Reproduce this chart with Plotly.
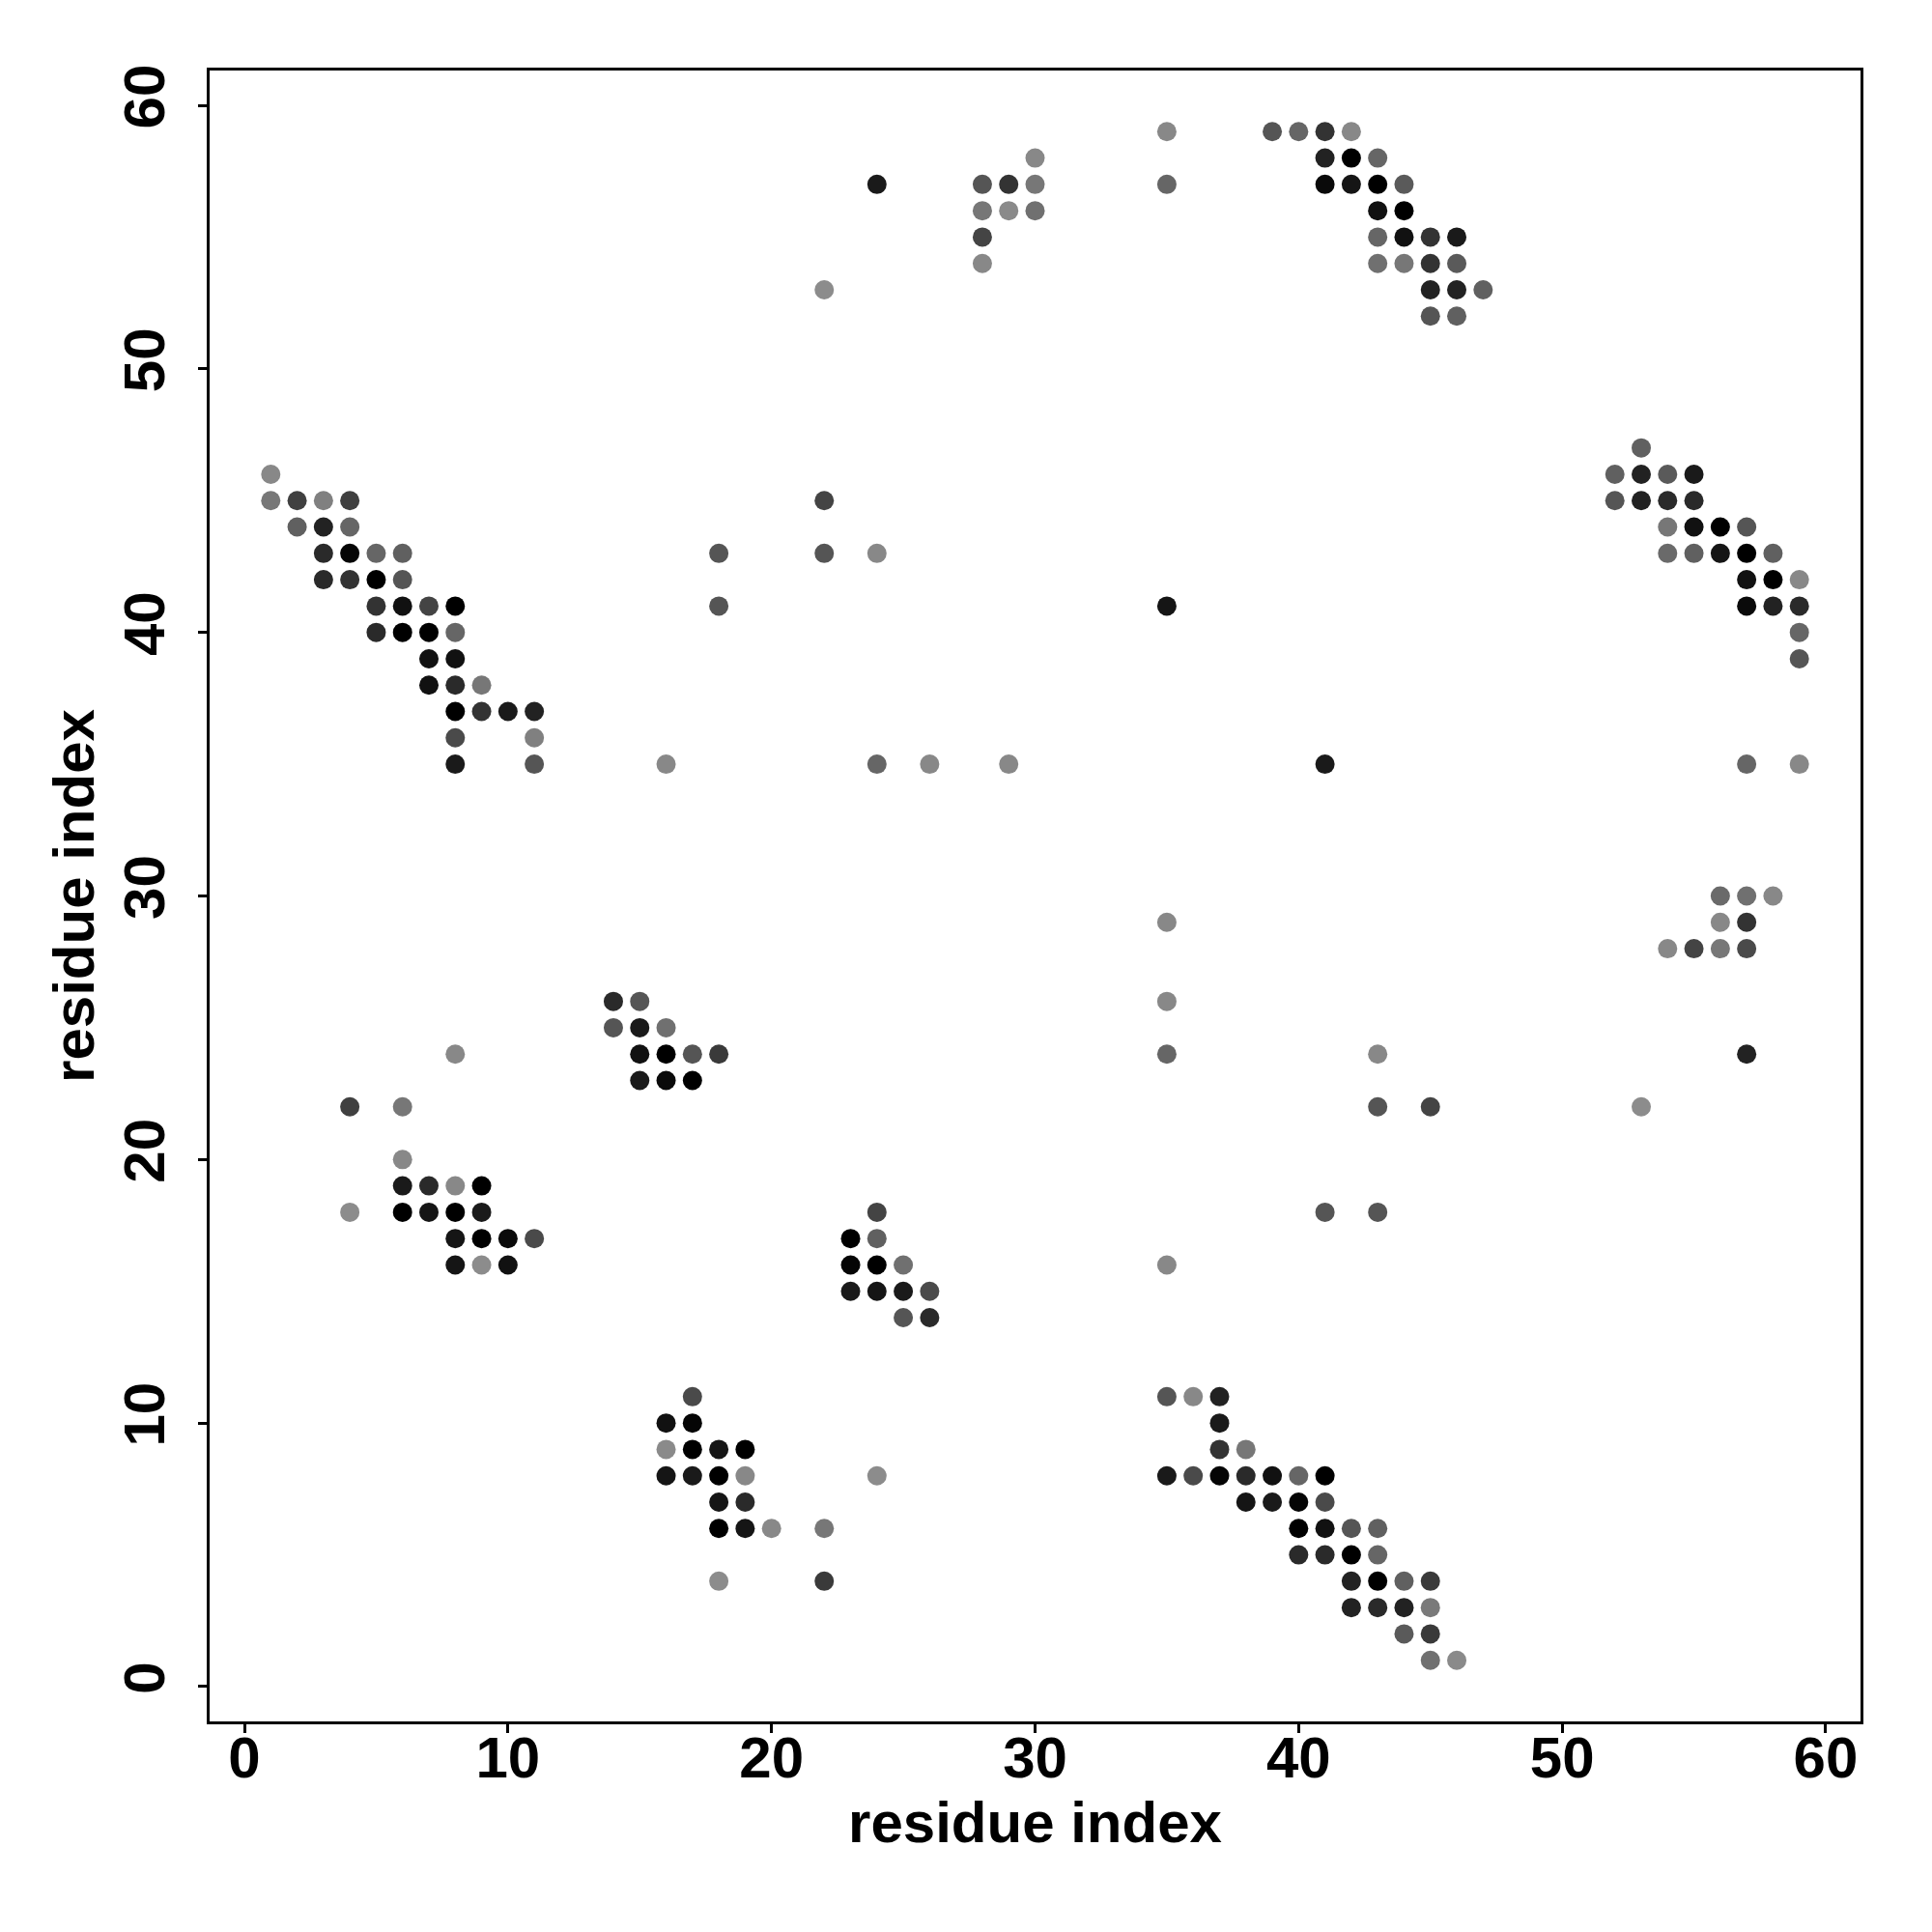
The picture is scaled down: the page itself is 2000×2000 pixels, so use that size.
import plotly.graph_objects as go

# contact map points: residue i (x), residue j (y), grey level (0=black .. 255=white)
x_res = [
    35, 39, 40, 41, 42,
    30, 41, 42, 43,
    24, 28, 29, 30, 35, 41, 42, 43, 44,
    28, 29, 30, 43, 44,
    28, 43, 44, 45, 46,
    28, 43, 44, 45, 46,
    22, 45, 46, 47,
    45, 46,
    53,
    1, 52, 53, 54, 55,
    1, 2, 3, 4, 22, 52, 53, 54, 55,
    2, 3, 4, 54, 55, 56, 57,
    3, 4, 5, 6, 18, 22, 24, 54, 55, 56, 57, 58,
    3, 4, 5, 6, 57, 58, 59,
    5, 6, 7, 8, 18, 35, 57, 58, 59,
    5, 6, 7, 8, 59,
    7, 8, 59,
    7, 8, 9,
    8, 9, 10, 11,
    8, 11,
    8, 11, 16, 24, 26, 29, 41, 57, 59,
    56, 57, 58,
    35, 56, 57,
    54, 55, 56, 57,
    14, 15, 35,
    14, 15, 16,
    8, 15, 16, 17, 18, 35, 43, 57,
    15, 16, 17,
    4, 6, 43, 45, 53,
    6,
    6, 7, 8, 9,
    4, 6, 7, 8, 9, 24, 41, 43,
    8, 9, 10, 11, 23, 24,
    8, 9, 10, 23, 24, 25, 35,
    23, 24, 25, 26,
    25, 26,
    17, 35, 36, 37,
    16, 17, 37,
    16, 17, 18, 19, 37, 38,
    16, 17, 18, 19, 24, 35, 36, 37, 38, 39, 40, 41,
    18, 19, 38, 39, 40, 41,
    18, 19, 20, 22, 40, 41, 42, 43,
    40, 41, 42, 43,
    18, 22, 42, 43, 44, 45,
    42, 43, 44, 45,
    44, 45,
    45, 46,
]
y_res = [
    59, 59, 59, 59, 59,
    58, 58, 58, 58,
    57, 57, 57, 57, 57, 57, 57, 57, 57,
    56, 56, 56, 56, 56,
    55, 55, 55, 55, 55,
    54, 54, 54, 54, 54,
    53, 53, 53, 53,
    52, 52,
    47,
    46, 46, 46, 46, 46,
    45, 45, 45, 45, 45, 45, 45, 45, 45,
    44, 44, 44, 44, 44, 44, 44,
    43, 43, 43, 43, 43, 43, 43, 43, 43, 43, 43, 43,
    42, 42, 42, 42, 42, 42, 42,
    41, 41, 41, 41, 41, 41, 41, 41, 41,
    40, 40, 40, 40, 40,
    39, 39, 39,
    38, 38, 38,
    37, 37, 37, 37,
    36, 36,
    35, 35, 35, 35, 35, 35, 35, 35, 35,
    30, 30, 30,
    29, 29, 29,
    28, 28, 28, 28,
    26, 26, 26,
    25, 25, 25,
    24, 24, 24, 24, 24, 24, 24, 24,
    23, 23, 23,
    22, 22, 22, 22, 22,
    20,
    19, 19, 19, 19,
    18, 18, 18, 18, 18, 18, 18, 18,
    17, 17, 17, 17, 17, 17,
    16, 16, 16, 16, 16, 16, 16,
    15, 15, 15, 15,
    14, 14,
    11, 11, 11, 11,
    10, 10, 10,
    9, 9, 9, 9, 9, 9,
    8, 8, 8, 8, 8, 8, 8, 8, 8, 8, 8, 8,
    7, 7, 7, 7, 7, 7,
    6, 6, 6, 6, 6, 6, 6, 6,
    5, 5, 5, 5,
    4, 4, 4, 4, 4, 4,
    3, 3, 3, 3,
    2, 2,
    1, 1,
]
grey_level = [
    136, 85, 102, 51, 136,
    136, 34, 0, 102,
    26, 85, 51, 119, 102, 10, 21, 0, 90,
    119, 138, 112, 17, 0,
    68, 102, 17, 51, 26,
    136, 112, 119, 51, 90,
    140, 34, 34, 96,
    85, 96,
    96,
    136, 96, 34, 90, 26,
    119, 64, 128, 64, 68, 85, 34, 42, 42,
    96, 34, 102, 119, 17, 0, 85,
    42, 5, 102, 96, 85, 85, 136, 106, 96, 21, 0, 96,
    42, 51, 0, 85, 17, 0, 136,
    51, 17, 68, 0, 85, 21, 10, 34, 42,
    42, 0, 0, 102, 102,
    17, 17, 85,
    17, 42, 119,
    0, 51, 26, 34,
    74, 128,
    26, 85, 136, 102, 136, 136, 26, 102, 136,
    106, 112, 136,
    136, 136, 51,
    136, 68, 119, 74,
    42, 85, 136,
    85, 26, 112,
    136, 17, 0, 85, 58, 102, 136, 34,
    26, 10, 0,
    64, 119, 85, 68, 140,
    136,
    26, 42, 136, 0,
    140, 0, 21, 0, 26, 68, 85, 85,
    21, 0, 10, 74, 0, 96,
    21, 140, 17, 5, 0, 112, 136,
    26, 21, 26, 74,
    85, 42,
    74, 85, 136, 34,
    17, 5, 26,
    138, 0, 21, 0, 51, 119,
    21, 26, 0, 136, 140, 26, 74, 5, 42, 17, 102, 0,
    21, 42, 21, 26, 5, 74,
    0, 21, 136, 119, 0, 17, 85, 96,
    42, 42, 0, 102,
    140, 58, 34, 0, 96, 58,
    34, 42, 34, 122,
    90, 58,
    112, 138,
]

tick_vals = [0, 10, 20, 30, 40, 50, 60]
tick_text = ["0", "10", "20", "30", "40", "50", "60"]
axis_title = "residue index"

colors = [f"rgb({g},{g},{g})" for g in grey_level]

fig = go.Figure(
    go.Scatter(
        x=x_res,
        y=y_res,
        mode="markers",
        marker=dict(size=20, color=colors, line=dict(width=0)),
        hoverinfo="x+y",
    )
)

font_family = "Liberation Sans"
axis_common = dict(
    range=[-1.32, 61.32],
    tickmode="array",
    tickvals=tick_vals,
    ticktext=tick_text,
    ticks="outside",
    ticklen=9,
    tickwidth=2.5,
    tickcolor="black",
    showline=True,
    linecolor="black",
    linewidth=2.5,
    mirror=True,
    showgrid=False,
    zeroline=False,
    tickfont=dict(family=font_family, size=60, color="black", weight="bold"),
)

fig.update_layout(
    width=2000,
    height=2000,
    margin=dict(l=209, r=82, t=65, b=226, autoexpand=False),
    paper_bgcolor="white",
    plot_bgcolor="white",
    showlegend=False,
    xaxis=dict(
        **axis_common,
        ticklabelstandoff=-26,
        title=dict(text=axis_title, standoff=14,
                   font=dict(family=font_family, size=60, color="black", weight="bold")),
    ),
    yaxis=dict(
        **axis_common,
        tickangle=-90,
        ticklabelstandoff=11,
        title=dict(text=axis_title, standoff=0,
                   font=dict(family=font_family, size=60, color="black", weight="bold")),
    ),
)

fig.write_html("out.html")
